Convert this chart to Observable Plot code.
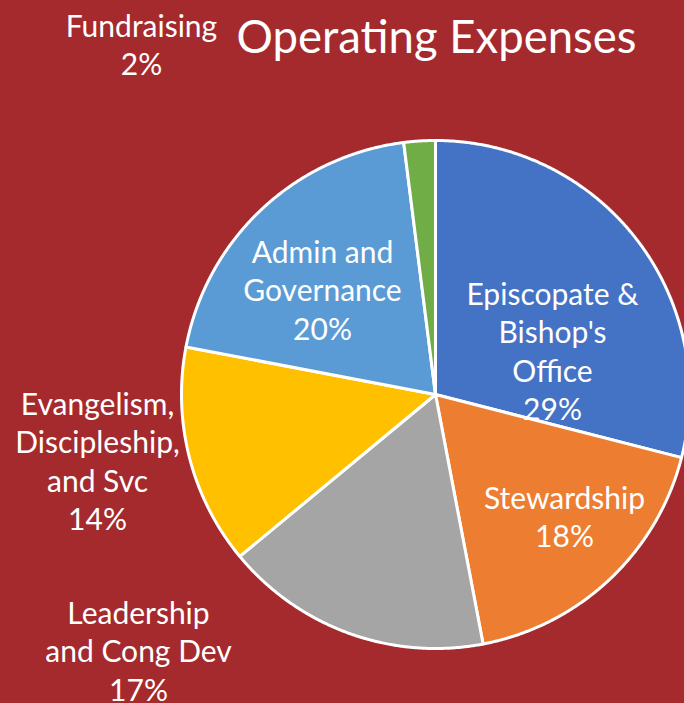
<!DOCTYPE html>
<html>
<head>
<meta charset="utf-8">
<script src="https://cdn.jsdelivr.net/npm/d3@7"></script>
<script src="https://cdn.jsdelivr.net/npm/@observablehq/plot@0.6"></script>
<style>
  html, body { margin: 0; padding: 0; background: #A52A2E; }
  #chart { width: 684px; height: 703px; overflow: hidden; }
</style>
</head>
<body>
<div id="chart"></div>
<script>
// ---- data ----
const title = "Operating Expenses";
const categories = [
  "Episcopate & Bishop's Office",
  "Stewardship",
  "Leadership and Cong Dev",
  "Evangelism, Discipleship, and Svc",
  "Admin and Governance",
  "Fundraising"
];
const values = [29, 18, 17, 14, 20, 2];
const labelNames = [
  "Episcopate &\nBishop's\nOffice",
  "Stewardship",
  "Leadership\nand Cong Dev",
  "Evangelism,\nDiscipleship,\nand Svc",
  "Admin and\nGovernance",
  "Fundraising"
];
const colors = ["#4472C4", "#ED7D31", "#A5A5A5", "#FFC000", "#5B9BD5", "#70AD47"];

// ---- layout (pixel space) ----
const W = 684, H = 703;
const cx = 435, cy = 394, R = 254;
const fontSize = 30, lineGap = 38.5, titleSize = 45.5;
const lift = 5; // empirical baseline correction
// first-line baseline and centre x of each data label
const labelAnchor = [
  [552, 303], [564, 507], [138, 622], [97, 413], [322, 261], [141, 35]
];

const pie = d3.pie().sort(null).value(d => d.value)(
  categories.map((c, i) => ({category: c, value: values[i]}))
);

const slicePts = [];
pie.forEach(p => {
  const cat = p.data.category;
  slicePts.push({category: cat, x: cx, y: cy});
  const n = Math.max(4, Math.ceil((p.endAngle - p.startAngle) / 0.005));
  for (let k = 0; k <= n; k++) {
    const a = p.startAngle + (p.endAngle - p.startAngle) * k / n;
    slicePts.push({category: cat, x: cx + R * Math.sin(a), y: cy - R * Math.cos(a)});
  }
  slicePts.push({category: cat, x: cx, y: cy});
});

const labels = categories.map((c, i) => ({
  text: labelNames[i] + "\n" + values[i] + "%",
  x: labelAnchor[i][0],
  y: labelAnchor[i][1] - 0.71 * fontSize - lift
}));

const chart = Plot.plot({
  width: W,
  height: H,
  margin: 0,
  x: {domain: [0, W], range: [0, W], axis: null},
  y: {domain: [0, H], range: [0, H], axis: null},
  color: {domain: categories, range: colors},
  style: {background: "#A52A2E", fontFamily: "Lato, 'Open Sans', sans-serif"},
  marks: [
    Plot.line(slicePts, {
      x: "x", y: "y", z: "category", fill: "category",
      stroke: "white", strokeWidth: 3, strokeLinejoin: "round", curve: "linear"
    }),
    Plot.text(labels, {
      x: "x", y: "y", text: "text",
      fill: "white", fontSize: fontSize, lineHeight: lineGap / fontSize,
      lineAnchor: "top", textAnchor: "middle"
    }),
    Plot.text([title], {
      x: () => 436, y: () => 52 - 0.71 * titleSize, text: d => d,
      fill: "white", fontSize: titleSize, lineAnchor: "top", textAnchor: "middle"
    })
  ]
});
document.getElementById("chart").appendChild(chart);
</script>
</body>
</html>
